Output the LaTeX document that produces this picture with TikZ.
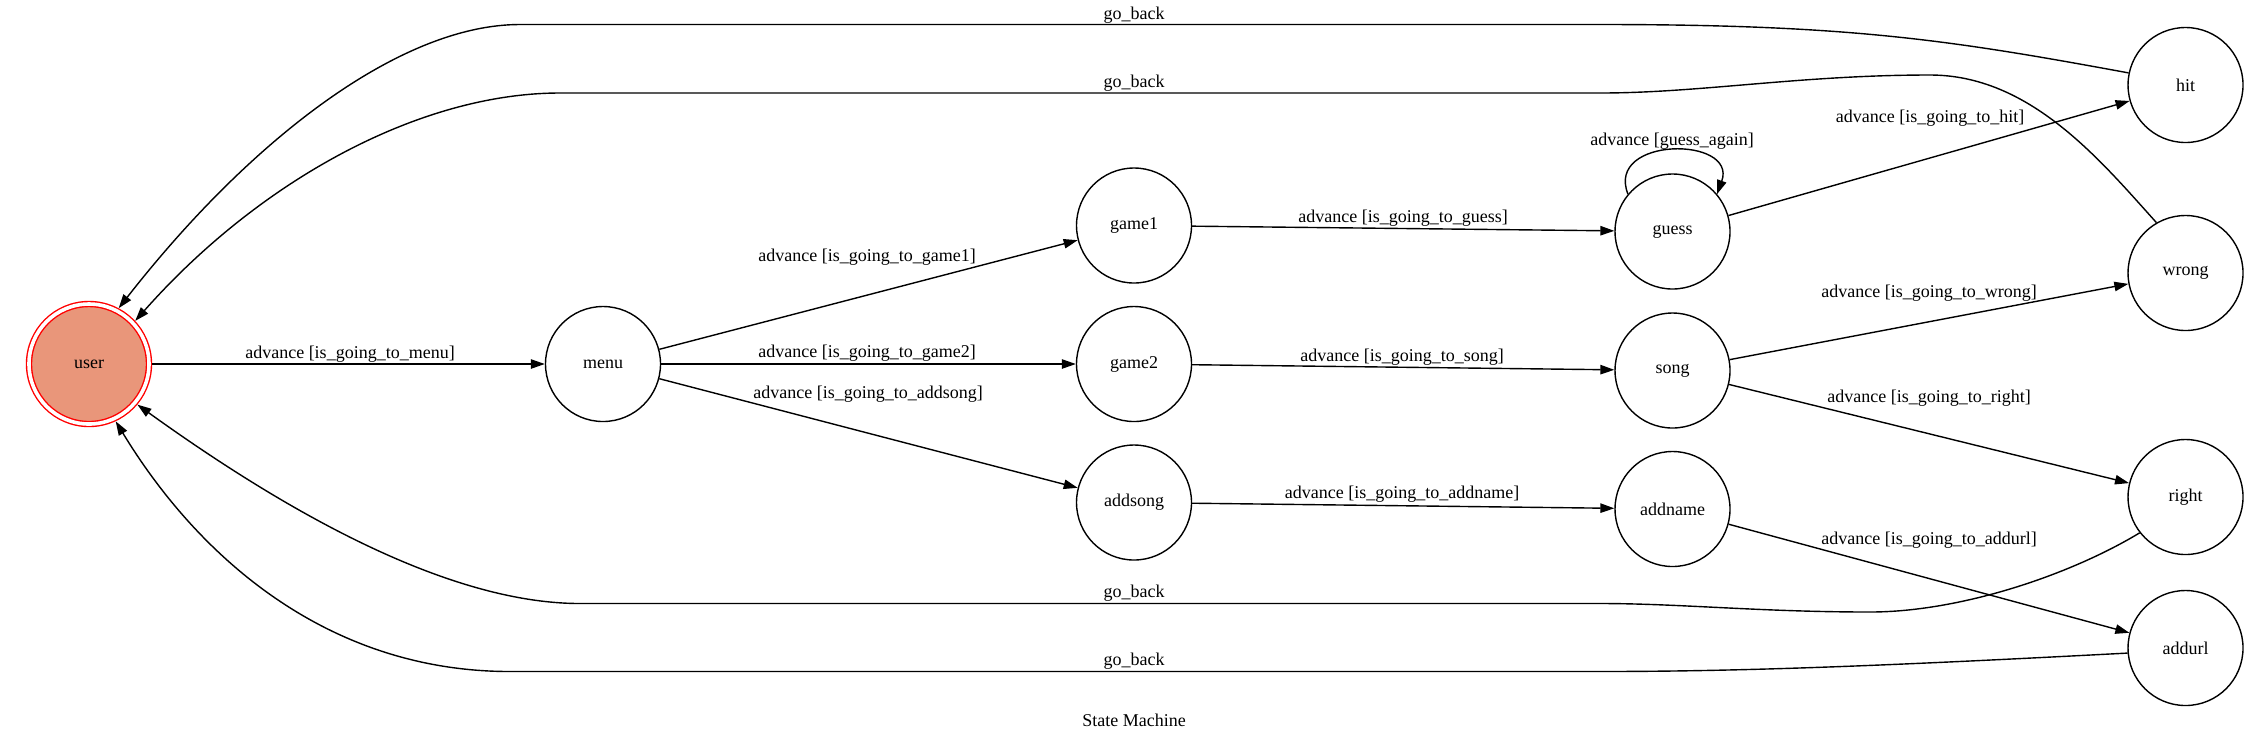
\documentclass[tikz,border=0pt]{standalone}
\usepackage{fontspec}
\setmainfont{Liberation Serif}
\usetikzlibrary{arrows.meta}
\definecolor{salmonfill}{RGB}{233,150,122}

\begin{document}
\begin{tikzpicture}[x=0.5pt,y=-0.5pt,>={Triangle[length=7pt,width=4.7pt]},
  font=\fontsize{9}{11}\selectfont,
  state/.style={circle,draw,line width=0.7pt,minimum size=57.5pt,inner sep=0pt},
  initstate/.style={state,draw=red,fill=salmonfill,double=white,double distance=1.8pt,minimum size=60pt,outer sep=1.6pt},
  trans/.style={->,line width=0.7pt},
  lbl/.style={inner sep=0pt}]
\useasboundingbox (0,0) rectangle (2268,741);
\node[initstate] (user) at (89,364) {user};
\node[state] (menu) at (603,364) {menu};
\node[state] (game1) at (1134,225.5) {game1};
\node[state] (game2) at (1134,364) {game2};
\node[state] (addsong) at (1134,502.5) {addsong};
\node[state] (guess) at (1672.5,231.5) {guess};
\node[state] (song) at (1672.5,370.5) {song};
\node[state] (addname) at (1672.5,509) {addname};
\node[state] (hit) at (2185.5,85) {hit};
\node[state] (wrong) at (2185.5,273) {wrong};
\node[state] (right) at (2185.5,497) {right};
\node[state] (addurl) at (2185.5,648) {addurl};
\draw[trans] (user) -- (menu);
\draw[trans] (menu) -- (game1);
\draw[trans] (menu) -- (game2);
\draw[trans] (menu) -- (addsong);
\draw[trans] (game1) -- (guess);
\draw[trans] (game2) -- (song);
\draw[trans] (addsong) -- (addname);
\draw[trans] (guess.140) .. controls (1605,136) and (1738,136) .. (guess.40);
\draw[trans] (guess) -- (hit);
\draw[trans] (song) -- (wrong);
\draw[trans] (song) -- (right);
\draw[trans] (addname) -- (addurl);
\draw[trans] (hit.168) .. controls (1950,40) and (1850,24.5) .. (1600,24.5) -- (520,24.5)
  .. controls (400,24.5) and (250,140) .. (user.62);
\draw[trans] (wrong.120) .. controls (2100,160) and (2030,75) .. (1930,75)
  .. controls (1800,75) and (1700,93) .. (1600,93) -- (560,93)
  .. controls (420,93) and (260,180) .. (user.43);
\draw[trans] (right.218) .. controls (2070,575) and (1960,612) .. (1870,612)
  .. controls (1760,612) and (1680,603.5) .. (1600,603.5) -- (580,603.5)
  .. controls (440,603.5) and (270,500) .. (user.-40);
\draw[trans] (addurl.185) .. controls (1900,665) and (1750,671.5) .. (1600,671.5) -- (510,671.5)
  .. controls (330,671.5) and (200,560) .. (user.-65);
\node[lbl] (l-menu) at (350,354) {advance [is\_going\_to\_menu]};
\node[lbl] (l-game1) at (867,257) {advance [is\_going\_to\_game1]};
\node[lbl] (l-game2) at (867,353) {advance [is\_going\_to\_game2]};
\node[lbl] (l-addsong) at (868,394.5) {advance [is\_going\_to\_addsong]};
\node[lbl] (l-guess) at (1403,218) {advance [is\_going\_to\_guess]};
\node[lbl] (l-song) at (1402,357) {advance [is\_going\_to\_song]};
\node[lbl] (l-addname) at (1402,494) {advance [is\_going\_to\_addname]};
\node[lbl] (l-again) at (1672,141.5) {advance [guess\_again]};
\node[lbl] (l-hit) at (1930,118) {advance [is\_going\_to\_hit]};
\node[lbl] (l-wrong) at (1929,293) {advance [is\_going\_to\_wrong]};
\node[lbl] (l-right) at (1929,398.5) {advance [is\_going\_to\_right]};
\node[lbl] (l-addurl) at (1929,540) {advance [is\_going\_to\_addurl]};
\node[lbl] (l-back1) at (1134,15) {go\_back};
\node[lbl] (l-back2) at (1134,83) {go\_back};
\node[lbl] (l-back3) at (1134,593) {go\_back};
\node[lbl] (l-back4) at (1134,661.5) {go\_back};
\node[lbl] (title) at (1134,720) {State Machine};
\end{tikzpicture}
\end{document}
